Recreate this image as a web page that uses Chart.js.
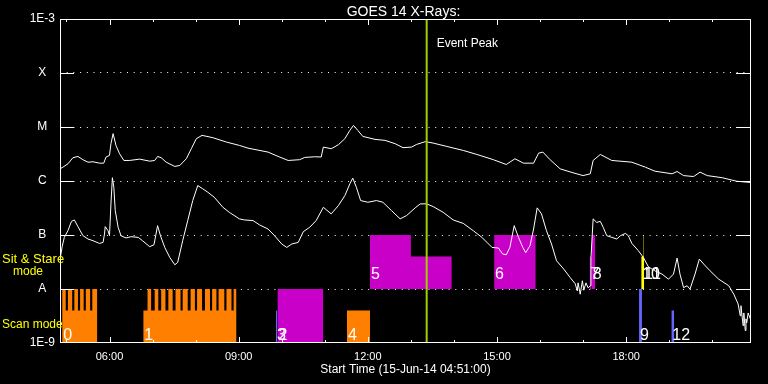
<!DOCTYPE html>
<html><head><meta charset="utf-8">
<script src="https://cdn.jsdelivr.net/npm/chart.js@4.4.1/dist/chart.umd.min.js"></script>
<style>html,body{margin:0;padding:0;background:#000;}canvas{display:block;}</style>
</head><body>
<canvas id="c" width="768" height="384"></canvas>
<script>
// ---------------- data ----------------
const titleText = 'GOES 14 X-Rays:';
const xAxisTitle = 'Start Time (15-Jun-14 04:51:00)';
const startTime = '04:51';
const endTime = '20:54';
const eventPeakTime = '13:22';
const eventPeakLabel = 'Event Peak';
const yTickValues = [1e-9, 1e-8, 1e-7, 1e-6, 1e-5, 1e-4, 1e-3];
const yTickLabels = ['1E-9', 'A', 'B', 'C', 'M', 'X', '1E-3'];
const xTickHours = [5,6,7,8,9,10,11,12,13,14,15,16,17,18,19,20];
const xLabelHours = [6, 9, 12, 15, 18];
const modeLabels = ['Sit & Stare', 'mode', 'Scan mode'];

// GOES long channel (upper curve)
const longTimes = ['04:52','04:55','05:02','05:09','05:16','05:23','05:30','05:37','05:46','05:52','05:55','06:00','06:02','06:05','06:09','06:14','06:20','06:28','06:42','06:56','07:03','07:07','07:12','07:19','07:31','07:38','07:47','07:54','08:01','08:09','08:24','08:43','09:01','09:13','09:41','09:55','10:09','10:25','10:32','10:46','10:55','10:58','11:09','11:19','11:28','11:35','11:40','11:46','11:53','12:10','12:24','12:38','12:49','13:01','13:08','13:20','13:31','13:50','14:13','14:32','14:55','15:13','15:25','15:37','15:51','15:58','16:04','16:14','16:28','16:46','17:00','17:10','17:14','17:24','17:40','18:08','18:27','18:40','19:04','19:11','19:20','19:34','19:43','19:53','20:14','20:34','20:53'];
const longFlux = [1.71e-6,1.80e-6,2.08e-6,2.70e-6,2.85e-6,2.48e-6,2.23e-6,2.27e-6,2.14e-6,2.14e-6,2.77e-6,2.98e-6,4.91e-6,7.53e-6,4.56e-6,3.20e-6,2.40e-6,2.40e-6,2.54e-6,2.33e-6,2.40e-6,2.85e-6,2.70e-6,2.23e-6,1.86e-6,1.94e-6,2.58e-6,3.96e-6,6.08e-6,7.00e-6,6.34e-6,5.26e-6,4.56e-6,4.06e-6,3.43e-6,2.85e-6,2.40e-6,2.48e-6,2.73e-6,2.81e-6,2.78e-6,4.25e-6,3.96e-6,4.70e-6,6.08e-6,8.67e-6,1.07e-5,8.67e-6,6.70e-6,5.90e-6,5.65e-6,4.91e-6,4.14e-6,4.25e-6,4.76e-6,5.35e-6,5.04e-6,4.37e-6,3.68e-6,3.10e-6,2.48e-6,2.02e-6,2.58e-6,2.14e-6,2.14e-6,3.28e-6,3.43e-6,2.48e-6,1.68e-6,1.42e-6,1.26e-6,1.36e-6,2.40e-6,3.10e-6,2.40e-6,2.23e-6,1.80e-6,1.52e-6,1.36e-6,1.50e-6,1.26e-6,1.21e-6,1.46e-6,1.26e-6,1.15e-6,0.99e-6,0.94e-6];

// GOES short channel (lower curve)
const shortTimes = ['04:52','04:54','04:57','05:02','05:07','05:11','05:16','05:23','05:30','05:37','05:46','05:51','05:53','05:54','05:58','06:00','06:02','06:04','06:06','06:08','06:12','06:16','06:23','06:30','06:40','06:46','06:56','07:02','07:07','07:11','07:17','07:24','07:31','07:35','07:42','07:49','07:56','08:03','08:10','08:17','08:26','08:38','08:47','09:01','09:08','09:20','09:29','09:41','09:50','10:00','10:07','10:14','10:23','10:30','10:39','10:48','10:58','11:09','11:19','11:28','11:35','11:39','11:44','11:50','12:00','12:12','12:21','12:33','12:45','12:54','13:06','13:13','13:22','13:31','13:45','13:59','14:13','14:27','14:39','14:53','15:02','15:08','15:13','15:18','15:24','15:30','15:36','15:40','15:46','15:51','15:56','16:02','16:09','16:16','16:23','16:33','16:42','16:49','16:52','16:53','16:56','16:59','17:01','17:04','17:07','17:10','17:11','17:14','17:19','17:24','17:28','17:33','17:40','17:47','17:52','17:59','18:03','18:08','18:17','18:24','18:31','18:40','18:50','18:59','19:06','19:11','19:15','19:20','19:25','19:29','19:36','19:42','19:48','19:57','20:09','20:23','20:30','20:36','20:39','20:40','20:43','20:44','20:46','20:47','20:48','20:50','20:53'];
const shortFlux = [4.13e-8,6.07e-8,9.04e-8,1.20e-7,1.79e-7,1.90e-7,1.43e-7,9.71e-8,8.43e-8,7.84e-8,6.98e-8,7.29e-8,1.04e-7,1.43e-7,1.20e-7,9.71e-8,3.77e-7,1.15e-6,7.67e-7,2.83e-7,1.39e-7,9.71e-8,8.81e-8,9.31e-8,9.04e-8,7.84e-8,6.07e-8,6.61e-8,1.49e-7,9.71e-8,5.89e-8,3.84e-8,2.81e-8,3.10e-8,7.84e-8,1.85e-7,4.34e-7,8.24e-7,7.16e-7,6.19e-7,5.00e-7,3.26e-7,2.63e-7,1.99e-7,1.90e-7,1.85e-7,1.54e-7,1.29e-7,9.71e-8,6.81e-8,5.89e-8,6.81e-8,7.29e-8,1.15e-7,1.39e-7,1.85e-7,3.26e-7,2.46e-7,3.51e-7,5.37e-7,8.87e-7,1.13e-6,7.67e-7,4.34e-7,4.04e-7,4.34e-7,4.04e-7,2.83e-7,1.99e-7,2.29e-7,3.18e-7,3.77e-7,3.77e-7,3.36e-7,2.63e-7,1.90e-7,1.64e-7,1.20e-7,9.04e-8,5.89e-8,5.74e-8,4.44e-8,4.31e-8,5.89e-8,1.49e-7,9.04e-8,5.89e-8,4.70e-8,6.34e-8,1.29e-7,3.18e-7,2.46e-7,1.20e-7,6.81e-8,3.33e-8,2.34e-8,1.63e-8,1.25e-8,9.2e-9,1.3e-8,8.0e-9,1.42e-8,9.5e-9,1.3e-8,1.05e-8,1.15e-8,3.84e-8,1.99e-7,1.71e-7,1.79e-7,1.39e-7,9.71e-8,9.04e-8,8.43e-8,9.71e-8,1.07e-7,9.71e-8,6.98e-8,5.12e-8,3.84e-8,2.58e-8,2.17e-8,1.89e-8,1.52e-8,1.89e-8,3.74e-8,1.89e-8,1.06e-8,1.15e-8,9.93e-9,1.89e-8,3.58e-8,2.90e-8,2.17e-8,1.52e-8,1.15e-8,8.02e-9,5.3e-9,3.2e-9,4.9e-9,2.1e-9,3.6e-9,1.7e-9,2.8e-9,2.35e-9,3.6e-9,2.8e-9];

// observation blocks
const obsLabel = ['0','1','2','3','4','5','6','7','8','9','10','11','12'];
const obsStart = ['04:54','06:47','09:54','09:52','11:31','12:03','14:56','17:09','17:12','18:18','18:21','18:24','19:03'];
const obsEnd   = ['05:43','08:57','10:58','09:54','12:03','13:57','15:54','17:12','17:17','18:22','18:25','18:25','19:07'];
const obsLow   = [1e-9,1e-9,1e-9,1e-9,1e-9,1e-8,1e-8,1e-8,1e-8,1e-9,1e-8,1e-8,1e-9];
const obsHigh  = [1e-8,1e-8,1e-8,4e-9,4e-9,1e-7,1e-7,4e-8,1e-7,1e-8,4e-8,1e-7,4e-9];
const obsKind  = ['raster','raster','sit','aux','raster','sit','sit','sit','sit','aux','flare','flare','aux'];
// intervals inside a block that only reach a lower level: [from, to, level]
const obsSteps = {
  0: [['04:59','05:02',4e-9],['05:08','05:11',4e-9],['05:16','05:19',4e-9],['05:24','05:27',4e-9],['05:33','05:36',4e-9]],
  1: [['06:47','06:53',4e-9],['06:58','07:03',4e-9],['07:08','07:12',4e-9],['07:18','07:22',4e-9],['07:28','07:32',4e-9],['07:39','07:42',4e-9],['07:49','07:53',4e-9],['07:59','08:02',4e-9],['08:09','08:13',4e-9],['08:20','08:23',4e-9],['08:29','08:32',4e-9],['08:40','08:43',4e-9],['08:50','08:53',4e-9]],
  5: [['13:00','13:57',4e-8]]
};

// ---------------- styles ----------------
const kindColor = { raster: '#ff8000', sit: '#c800c8', aux: '#6464ff', flare: '#ffff00' };
const FONT = '"Liberation Sans", Arial, sans-serif';
const T = s => { const [h, m] = s.split(':').map(Number); return h * 60 + m; };

function blockPoints(i) {
  const s = T(obsStart[i]), e = T(obsEnd[i]), top = obsHigh[i];
  const steps = (obsSteps[i] || []).map(g => [T(g[0]), T(g[1]), g[2]]);
  const pts = [];
  let cur = s;
  steps.forEach(([a, b, lvl]) => {
    if (a > cur) { pts.push({x: cur, y: top}, {x: a, y: top}); }
    pts.push({x: a, y: lvl}, {x: b, y: lvl});
    cur = b;
  });
  if (e > cur) pts.push({x: cur, y: top}, {x: e, y: top});
  return pts;
}

const datasets = [];
datasets.push({
  data: [{x: T(eventPeakTime), y: 1e-9}, {x: T(eventPeakTime), y: 1e-3}],
  borderColor: '#a0d000', borderWidth: 2, pointRadius: 0, fill: false, order: 0
});
datasets.push({
  data: longTimes.map((t, i) => ({x: T(t), y: longFlux[i]})),
  borderColor: '#ffffff', borderWidth: 1, pointRadius: 0, fill: false, tension: 0, order: 1
});
datasets.push({
  data: shortTimes.map((t, i) => ({x: T(t), y: shortFlux[i]})),
  borderColor: '#ffffff', borderWidth: 1, pointRadius: 0, fill: false, tension: 0, order: 1
});
obsStart.forEach((_, i) => {
  datasets.push({
    data: blockPoints(i),
    borderWidth: 0, borderColor: 'rgba(0,0,0,0)', pointRadius: 0,
    backgroundColor: kindColor[obsKind[i]],
    fill: {value: obsLow[i]}, order: 2
  });
});

const overlay = {
  id: 'overlay',
  afterDatasetsDraw(chart) {
    const {ctx, chartArea: a} = chart;
    const x = chart.scales.x, y = chart.scales.y;
    ctx.save();
    // block numbers
    ctx.fillStyle = '#fff';
    ctx.font = '16px ' + FONT;
    ctx.textAlign = 'left';
    ctx.textBaseline = 'alphabetic';
    obsLabel.forEach((lab, i) => {
      if (!lab) return;
      const px = x.getPixelForValue(T(obsStart[i])) + 1;
      const py = obsLow[i] < 5e-9 ? y.getPixelForValue(1e-9) - 3.5 : y.getPixelForValue(1e-8) - 10.5;
      ctx.fillText(lab, px, py);
    });
    // frame
    ctx.strokeStyle = '#fff';
    ctx.lineWidth = 1;
    ctx.strokeRect(a.left + 0.5, a.top + 0.5, a.right - a.left - 1, a.bottom - a.top - 1);
    ctx.beginPath();
    // x ticks (inward, top & bottom)
    xTickHours.forEach(h => {
      const px = Math.round(x.getPixelForValue(h * 60)) + 0.5;
      const len = h % 3 === 0 ? 6 : 3;
      ctx.moveTo(px, a.bottom); ctx.lineTo(px, a.bottom - len);
      ctx.moveTo(px, a.top); ctx.lineTo(px, a.top + len);
    });
    // y ticks (inward, left & right)
    yTickValues.slice(1, -1).forEach(v => {
      const py = Math.round(y.getPixelForValue(v)) + 0.5;
      ctx.moveTo(a.left, py); ctx.lineTo(a.left + 14, py);
      ctx.moveTo(a.right - 15, py); ctx.lineTo(a.right, py);
    });
    ctx.stroke();
    ctx.restore();
  },
  afterDraw(chart) {
    const {ctx, chartArea: a} = chart;
    const x = chart.scales.x;
    ctx.save();
    ctx.fillStyle = '#fff';
    ctx.textBaseline = 'alphabetic';
    ctx.textAlign = 'center';
    ctx.font = '14px ' + FONT;
    ctx.fillText(titleText, (a.left + a.right) / 2 - 2, 16);
    ctx.font = '12px ' + FONT;
    ctx.fillText(xAxisTitle, (a.left + a.right) / 2, 373);
    ctx.textAlign = 'left';
    ctx.fillText(eventPeakLabel, x.getPixelForValue(T(eventPeakTime)) + 10, 47);
    ctx.fillStyle = '#ffff00';
    ctx.font = '13px ' + FONT;
    ctx.fillText(modeLabels[0], 2, 263);
    ctx.font = '12px ' + FONT;
    ctx.fillText(modeLabels[1], 13, 275);
    ctx.fillText(modeLabels[2], 2, 328);
    ctx.restore();
  }
};

Chart.defaults.color = '#fff';
Chart.defaults.font.family = FONT;

new Chart(document.getElementById('c'), {
  type: 'line',
  data: { datasets },
  options: {
    responsive: false,
    animation: false,
    events: [],
    layout: { padding: { top: 19, right: 17, left: 0, bottom: 0 } },
    plugins: { legend: { display: false }, tooltip: { enabled: false }, title: { display: false } },
    scales: {
      x: {
        type: 'linear',
        min: T(startTime), max: T(endTime),
        afterFit(s) { s.height = 41; },
        afterBuildTicks(s) { s.ticks = xTickHours.map(h => ({value: h * 60})); },
        grid: { display: false, drawTicks: false },
        border: { display: false },
        ticks: {
          autoSkip: false, maxRotation: 0, padding: 7, color: '#fff',
          font: { size: 11 },
          callback(v) { const h = v / 60; return xLabelHours.includes(h) ? String(h).padStart(2, '0') + ':00' : ''; }
        }
      },
      y: {
        type: 'logarithmic',
        min: 1e-9, max: 1e-3,
        afterFit(s) { s.width = 60; },
        afterBuildTicks(s) { s.ticks = yTickValues.map(v => ({value: v})); },
        grid: {
          drawTicks: false, lineWidth: 1,
          color(c) { const v = c.tick && c.tick.value; return (v === 1e-9 || v === 1e-3) ? 'rgba(0,0,0,0)' : '#ffffff'; }
        },
        border: { display: false, dash: [1, 5.7] },
        ticks: {
          autoSkip: false, padding: 5, crossAlign: 'center', color: '#fff',
          font: { size: 12 },
          callback(v) { const i = yTickValues.findIndex(t => Math.abs(Math.log10(t) - Math.log10(v)) < 1e-6); return i >= 0 ? yTickLabels[i] : ''; }
        }
      }
    }
  },
  plugins: [overlay]
});
</script>
</body></html>
